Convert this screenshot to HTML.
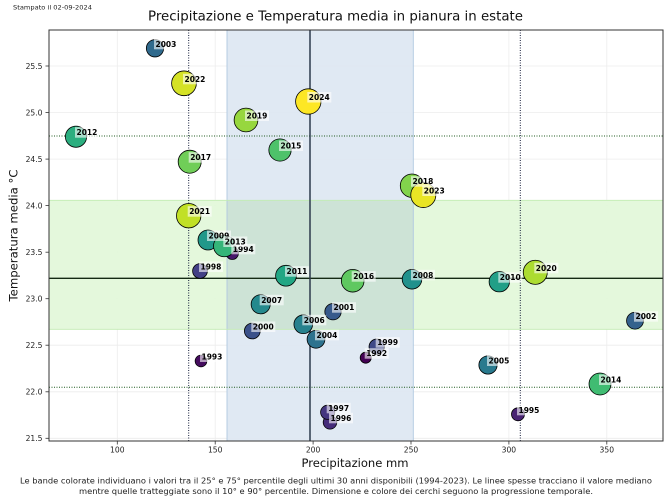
<!DOCTYPE html>
<html><head><meta charset="utf-8"><style>
html,body{margin:0;padding:0;background:#fff;}
svg{display:block;font-family:"DejaVu Sans","Liberation Sans",sans-serif;}
.lb{font-size:7.5px;font-weight:bold;fill:#000;}
.tk{font-size:7.6px;fill:#222;}
</style></head><body>
<svg width="672" height="504" viewBox="0 0 672 504" xmlns="http://www.w3.org/2000/svg">
<rect width="672" height="504" fill="#fff"/>
<text x="13" y="9.5" font-size="6.4" fill="#222" textLength="79" lengthAdjust="spacingAndGlyphs">Stampato il 02-09-2024</text>
<text x="335.5" y="20.5" font-size="13.6" fill="#111" text-anchor="middle" textLength="375" lengthAdjust="spacingAndGlyphs">Precipitazione e Temperatura media in pianura in estate</text>

<!-- grid -->
<g stroke="#ececec" stroke-width="0.8">
<line x1="117.3" y1="30" x2="117.3" y2="441"/><line x1="215.2" y1="30" x2="215.2" y2="441"/><line x1="313.1" y1="30" x2="313.1" y2="441"/><line x1="411" y1="30" x2="411" y2="441"/><line x1="508.9" y1="30" x2="508.9" y2="441"/><line x1="606.8" y1="30" x2="606.8" y2="441"/>
<line x1="49" y1="66" x2="663" y2="66"/><line x1="49" y1="112.5" x2="663" y2="112.5"/><line x1="49" y1="159.1" x2="663" y2="159.1"/><line x1="49" y1="205.6" x2="663" y2="205.6"/><line x1="49" y1="252.2" x2="663" y2="252.2"/><line x1="49" y1="298.7" x2="663" y2="298.7"/><line x1="49" y1="345.2" x2="663" y2="345.2"/><line x1="49" y1="391.8" x2="663" y2="391.8"/><line x1="49" y1="438.3" x2="663" y2="438.3"/>
</g>

<!-- bands -->
<rect x="227" y="30" width="186.3" height="411" fill="#dde7f2" fill-opacity="0.92"/>
<rect x="49" y="200.3" width="614" height="129" fill="#e2f7d9" fill-opacity="0.92"/>
<rect x="227" y="200.3" width="186.3" height="129" fill="#cde3d6"/>
<g stroke="#b0c8e0" stroke-width="0.9"><line x1="227" y1="30" x2="227" y2="441"/><line x1="413.3" y1="30" x2="413.3" y2="441"/></g>
<g stroke="#c2ecb2" stroke-width="0.9"><line x1="49" y1="200.3" x2="663" y2="200.3"/><line x1="49" y1="329.3" x2="663" y2="329.3"/></g>

<!-- percentile lines -->
<g stroke="#141c3a" stroke-width="1" stroke-dasharray="1,1.5"><line x1="188.7" y1="30" x2="188.7" y2="441"/><line x1="520.3" y1="30" x2="520.3" y2="441"/></g>
<g stroke="#1f5a1f" stroke-width="1" stroke-dasharray="1,1.5"><line x1="49" y1="136" x2="663" y2="136"/><line x1="49" y1="387.3" x2="663" y2="387.3"/></g>
<line x1="49" y1="278.3" x2="663" y2="278.3" stroke="#142a14" stroke-width="1.3"/>
<line x1="310" y1="30" x2="310" y2="441" stroke="#2c3b4c" stroke-width="1.5"/>

<!-- circles -->
<g stroke="#000" stroke-width="0.8">
<circle cx="365.7" cy="357.7" r="5.5" fill="#440154"/>
<circle cx="201" cy="361" r="5.85" fill="#450c5e"/>
<circle cx="232.3" cy="253.3" r="6.18" fill="#46176a"/>
<circle cx="518" cy="414.3" r="6.5" fill="#482273"/>
<circle cx="330" cy="422.3" r="6.8" fill="#462c7a"/>
<circle cx="327.7" cy="412.3" r="7.1" fill="#44367f"/>
<circle cx="200" cy="271" r="7.38" fill="#424085"/>
<circle cx="376.7" cy="346.7" r="7.65" fill="#3f4988"/>
<circle cx="252.3" cy="331" r="7.9" fill="#3b518a"/>
<circle cx="333" cy="311.7" r="8.17" fill="#375a8c"/>
<circle cx="635" cy="320.7" r="8.42" fill="#34628d"/>
<circle cx="155" cy="48.3" r="8.66" fill="#306a8d"/>
<circle cx="316" cy="339.3" r="8.9" fill="#2d728e"/>
<circle cx="488" cy="365" r="9.12" fill="#297a8e"/>
<circle cx="303.3" cy="324.3" r="9.35" fill="#27818d"/>
<circle cx="260.7" cy="304.3" r="9.56" fill="#24898d"/>
<circle cx="412" cy="279.3" r="9.78" fill="#21918c"/>
<circle cx="208" cy="240" r="9.99" fill="#21988a"/>
<circle cx="499.3" cy="281.7" r="10.19" fill="#229f87"/>
<circle cx="286" cy="275.7" r="10.39" fill="#22a784"/>
<circle cx="76" cy="136.7" r="10.59" fill="#2bae7f"/>
<circle cx="224.3" cy="246" r="10.78" fill="#35b579"/>
<circle cx="600" cy="384" r="10.97" fill="#40bc72"/>
<circle cx="280" cy="150" r="11.16" fill="#4ec26a"/>
<circle cx="352.7" cy="280.7" r="11.34" fill="#5fc860"/>
<circle cx="189.7" cy="161.7" r="11.52" fill="#70ce58"/>
<circle cx="412" cy="185.7" r="11.7" fill="#82d34c"/>
<circle cx="246" cy="120" r="11.87" fill="#97d73e"/>
<circle cx="535.3" cy="272.3" r="12.04" fill="#acdc31"/>
<circle cx="188.7" cy="215.7" r="12.21" fill="#c1e026"/>
<circle cx="184" cy="83.3" r="12.38" fill="#d5e226"/>
<circle cx="423.3" cy="195" r="12.54" fill="#e9e525"/>
<circle cx="308.3" cy="101.5" r="12.7" fill="#fde725"/>
</g>

<!-- labels -->
<g>
<rect x="364.7" y="348.2" width="24" height="10.5" fill="#fff" fill-opacity="0.6"/><text class="lb" x="366.2" y="356.2">1992</text>
<rect x="200" y="351.5" width="24" height="10.5" fill="#fff" fill-opacity="0.6"/><text class="lb" x="201.5" y="359.5">1993</text>
<rect x="231.3" y="243.8" width="24" height="10.5" fill="#fff" fill-opacity="0.6"/><text class="lb" x="232.8" y="251.8">1994</text>
<rect x="517" y="404.8" width="24" height="10.5" fill="#fff" fill-opacity="0.6"/><text class="lb" x="518.5" y="412.8">1995</text>
<rect x="329" y="412.8" width="24" height="10.5" fill="#fff" fill-opacity="0.6"/><text class="lb" x="330.5" y="420.8">1996</text>
<rect x="326.7" y="402.8" width="24" height="10.5" fill="#fff" fill-opacity="0.6"/><text class="lb" x="328.2" y="410.8">1997</text>
<rect x="199" y="261.5" width="24" height="10.5" fill="#fff" fill-opacity="0.6"/><text class="lb" x="200.5" y="269.5">1998</text>
<rect x="375.7" y="337.2" width="24" height="10.5" fill="#fff" fill-opacity="0.6"/><text class="lb" x="377.2" y="345.2">1999</text>
<rect x="251.3" y="321.5" width="24" height="10.5" fill="#fff" fill-opacity="0.6"/><text class="lb" x="252.8" y="329.5">2000</text>
<rect x="332" y="302.2" width="24" height="10.5" fill="#fff" fill-opacity="0.6"/><text class="lb" x="333.5" y="310.2">2001</text>
<rect x="634" y="311.2" width="24" height="10.5" fill="#fff" fill-opacity="0.6"/><text class="lb" x="635.5" y="319.2">2002</text>
<rect x="154" y="38.8" width="24" height="10.5" fill="#fff" fill-opacity="0.6"/><text class="lb" x="155.5" y="46.8">2003</text>
<rect x="315" y="329.8" width="24" height="10.5" fill="#fff" fill-opacity="0.6"/><text class="lb" x="316.5" y="337.8">2004</text>
<rect x="487" y="355.5" width="24" height="10.5" fill="#fff" fill-opacity="0.6"/><text class="lb" x="488.5" y="363.5">2005</text>
<rect x="302.3" y="314.8" width="24" height="10.5" fill="#fff" fill-opacity="0.6"/><text class="lb" x="303.8" y="322.8">2006</text>
<rect x="259.7" y="294.8" width="24" height="10.5" fill="#fff" fill-opacity="0.6"/><text class="lb" x="261.2" y="302.8">2007</text>
<rect x="411" y="269.8" width="24" height="10.5" fill="#fff" fill-opacity="0.6"/><text class="lb" x="412.5" y="277.8">2008</text>
<rect x="207" y="230.5" width="24" height="10.5" fill="#fff" fill-opacity="0.6"/><text class="lb" x="208.5" y="238.5">2009</text>
<rect x="498.3" y="272.2" width="24" height="10.5" fill="#fff" fill-opacity="0.6"/><text class="lb" x="499.8" y="280.2">2010</text>
<rect x="285" y="266.2" width="24" height="10.5" fill="#fff" fill-opacity="0.6"/><text class="lb" x="286.5" y="274.2">2011</text>
<rect x="75" y="127.2" width="24" height="10.5" fill="#fff" fill-opacity="0.6"/><text class="lb" x="76.5" y="135.2">2012</text>
<rect x="223.3" y="236.5" width="24" height="10.5" fill="#fff" fill-opacity="0.6"/><text class="lb" x="224.8" y="244.5">2013</text>
<rect x="599" y="374.5" width="24" height="10.5" fill="#fff" fill-opacity="0.6"/><text class="lb" x="600.5" y="382.5">2014</text>
<rect x="279" y="140.5" width="24" height="10.5" fill="#fff" fill-opacity="0.6"/><text class="lb" x="280.5" y="148.5">2015</text>
<rect x="351.7" y="271.2" width="24" height="10.5" fill="#fff" fill-opacity="0.6"/><text class="lb" x="353.2" y="279.2">2016</text>
<rect x="188.7" y="152.2" width="24" height="10.5" fill="#fff" fill-opacity="0.6"/><text class="lb" x="190.2" y="160.2">2017</text>
<rect x="411" y="176.2" width="24" height="10.5" fill="#fff" fill-opacity="0.6"/><text class="lb" x="412.5" y="184.2">2018</text>
<rect x="245" y="110.5" width="24" height="10.5" fill="#fff" fill-opacity="0.6"/><text class="lb" x="246.5" y="118.5">2019</text>
<rect x="534.3" y="262.8" width="24" height="10.5" fill="#fff" fill-opacity="0.6"/><text class="lb" x="535.8" y="270.8">2020</text>
<rect x="187.7" y="206.2" width="24" height="10.5" fill="#fff" fill-opacity="0.6"/><text class="lb" x="189.2" y="214.2">2021</text>
<rect x="183" y="73.8" width="24" height="10.5" fill="#fff" fill-opacity="0.6"/><text class="lb" x="184.5" y="81.8">2022</text>
<rect x="422.3" y="185.5" width="24" height="10.5" fill="#fff" fill-opacity="0.6"/><text class="lb" x="423.8" y="193.5">2023</text>
<rect x="307.3" y="92" width="24" height="10.5" fill="#fff" fill-opacity="0.6"/><text class="lb" x="308.8" y="100">2024</text>
</g>

<!-- frame -->
<rect x="49" y="30" width="614" height="411" fill="none" stroke="#333" stroke-width="1"/>

<!-- ticks -->
<g stroke="#333" stroke-width="0.8">
<line x1="117.3" y1="441" x2="117.3" y2="444.5"/><line x1="215.2" y1="441" x2="215.2" y2="444.5"/><line x1="313.1" y1="441" x2="313.1" y2="444.5"/><line x1="411" y1="441" x2="411" y2="444.5"/><line x1="508.9" y1="441" x2="508.9" y2="444.5"/><line x1="606.8" y1="441" x2="606.8" y2="444.5"/>
<line x1="45.5" y1="66" x2="49" y2="66"/><line x1="45.5" y1="112.5" x2="49" y2="112.5"/><line x1="45.5" y1="159.1" x2="49" y2="159.1"/><line x1="45.5" y1="205.6" x2="49" y2="205.6"/><line x1="45.5" y1="252.2" x2="49" y2="252.2"/><line x1="45.5" y1="298.7" x2="49" y2="298.7"/><line x1="45.5" y1="345.2" x2="49" y2="345.2"/><line x1="45.5" y1="391.8" x2="49" y2="391.8"/><line x1="45.5" y1="438.3" x2="49" y2="438.3"/>
</g>
<g class="tk" text-anchor="middle">
<text x="117.3" y="452.3">100</text><text x="215.2" y="452.3">150</text><text x="313.1" y="452.3">200</text><text x="411" y="452.3">250</text><text x="508.9" y="452.3">300</text><text x="606.8" y="452.3">350</text>
</g>
<g class="tk" text-anchor="end">
<text x="42.5" y="68.8">25.5</text><text x="42.5" y="115.3">25.0</text><text x="42.5" y="161.9">24.5</text><text x="42.5" y="208.4">24.0</text><text x="42.5" y="255">23.5</text><text x="42.5" y="301.5">23.0</text><text x="42.5" y="348">22.5</text><text x="42.5" y="394.6">22.0</text><text x="42.5" y="441.1">21.5</text>
</g>

<text x="355" y="466.8" font-size="11.5" fill="#111" text-anchor="middle" textLength="107" lengthAdjust="spacingAndGlyphs">Precipitazione mm</text>
<text transform="translate(17.6,235.5) rotate(-90)" font-size="11.5" fill="#111" text-anchor="middle" textLength="132" lengthAdjust="spacingAndGlyphs">Temperatura media °C</text>

<text x="336" y="483.5" font-size="7.6" fill="#222" text-anchor="middle" textLength="632" lengthAdjust="spacingAndGlyphs">Le bande colorate individuano i valori tra il 25° e 75° percentile degli ultimi 30 anni disponibili (1994-2023). Le linee spesse tracciano il valore mediano</text>
<text x="336" y="494" font-size="7.6" fill="#222" text-anchor="middle" textLength="514" lengthAdjust="spacingAndGlyphs">mentre quelle tratteggiate sono il 10° e 90° percentile. Dimensione e colore dei cerchi seguono la progressione temporale.</text>
</svg>
</body></html>
